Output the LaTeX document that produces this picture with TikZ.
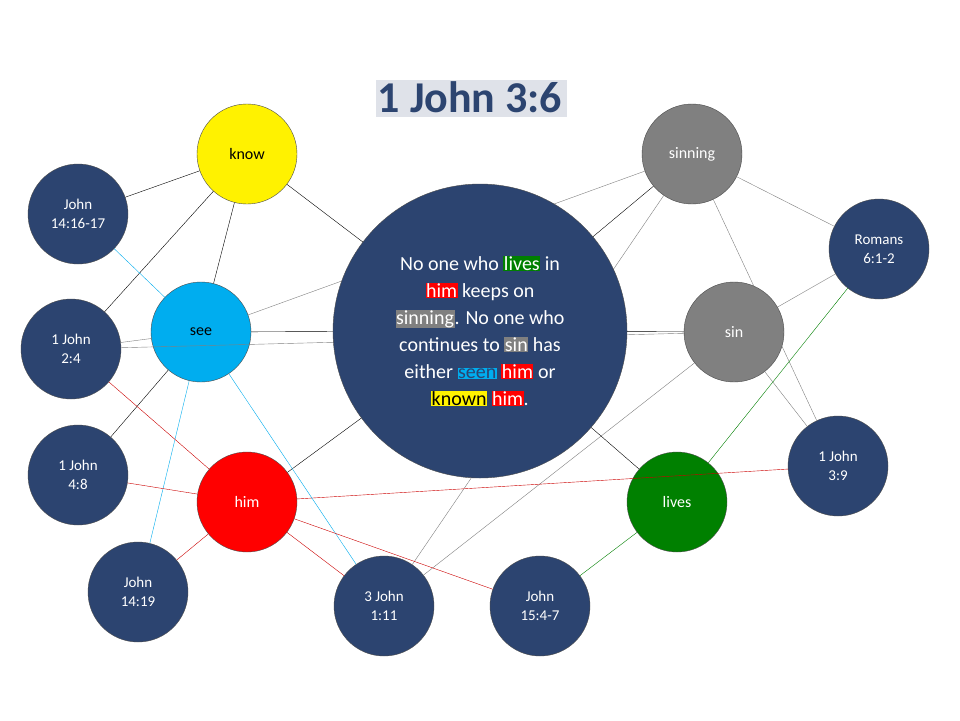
\documentclass[tikz,border=0pt]{standalone}
\usepackage{fontspec}
\setmainfont{Carlito}
\usetikzlibrary{shadows}
\definecolor{navy}{RGB}{44,68,112}
\definecolor{grey}{RGB}{128,128,128}
\definecolor{leaf}{RGB}{0,128,0}
\newcommand{\hl}[3]{{\setlength{\fboxsep}{0.5pt}\colorbox{#1}{\textcolor{#2}{#3}}}}
\tikzset{
  ball/.style={circle,draw=black!70,thin,minimum size=100pt,inner sep=0pt,align=center,font=\fontsize{16}{20}\selectfont},
  verse/.style={ball,fill=navy,text=white,font=\fontsize{15}{19}\selectfont},
  bk/.style={black,thin},
  gr/.style={grey,thin},
  cy/.style={cyan,thin},
  rd/.style={red!80!black,thin},
  gn/.style={leaf,thin}
}
\begin{document}
\begin{tikzpicture}[x=1pt,y=-1pt]
\useasboundingbox[fill=white] (0,0) rectangle (960,720);

% title
\node[font=\fontsize{44}{50}\bfseries\selectfont,text=navy,
  drop shadow={shadow xshift=1.5pt,shadow yshift=-1.5pt,fill=navy!30}] (title) at (470,97) {1 John 3:6};

% word circles
\node[ball,fill=yellow] (know) at (247,154) {know};
\node[ball,fill=cyan] (see) at (201,332) {see};
\node[ball,fill=red,text=white] (him) at (247,502) {him};
\node[ball,fill=grey,text=white] (sinning) at (692,154) {sinning};
\node[ball,fill=grey,text=white] (sin) at (734,332) {sin};
\node[ball,fill=leaf,text=white] (lives) at (677,502) {lives};

% verse circles
\node[verse] (jn1416) at (78,214) {John\\14:16-17};
\node[verse] (ijn24) at (71,349) {1 John\\2:4};
\node[verse] (ijn48) at (78,475) {1 John\\4:8};
\node[verse] (jn1419) at (138,592) {John\\14:19};
\node[verse] (iiijn111) at (384,606) {3 John\\1:11};
\node[verse] (jn154) at (540,606) {John\\15:4-7};
\node[verse] (ijn39) at (838,466) {1 John\\3:9};
\node[verse] (rom61) at (879,249) {Romans\\6:1-2};

% links behind
\begin{scope}[on background layer/.try]
\end{scope}
\draw[gr] (see) -- (sinning);
\draw[gr] (ijn24) -- (sin);
\draw[gr] (sinning) -- (iiijn111);
\draw[gr] (sin) -- (iiijn111);
\draw[rd] (him) -- (ijn39);

% center
\node[circle,fill=navy,draw=black!70,thin,minimum size=294pt,inner sep=0pt,align=center,
  text=white,font=\fontsize{20}{27}\selectfont] (verse) at (480,331)
  {No one who \hl{leaf}{white}{lives} in\\
   \hl{red}{white}{him} keeps on\\
   \hl{grey}{white}{sinning}. No one who\\
   continues to \hl{grey}{white}{sin} has\\
   either \hl{cyan}{navy}{seen} \hl{red}{white}{him} or\\
   \hl{yellow}{black}{known} \hl{red}{white}{him}.};

\draw[bk] (jn1416) -- (know);
\draw[bk] (know) -- (verse);
\draw[bk] (know) -- (ijn24);
\draw[bk] (know) -- (see);
\draw[bk] (see) -- (verse);
\draw[bk] (ijn48) -- (see);
\draw[bk] (him) -- (verse);
\draw[bk] (sinning) -- (verse);
\draw[bk] (sin) -- (verse);
\draw[bk] (lives) -- (verse);

\draw[cy] (jn1416) -- (see);
\draw[cy] (see) -- (jn1419);
\draw[cy] (see) -- (iiijn111);

\draw[gr] (ijn24) -- (see);
\draw[gr] (sinning) -- (rom61);
\draw[gr] (sinning) -- (ijn39);
\draw[gr] (sin) -- (rom61);
\draw[gr] (sin) -- (ijn39);

\draw[rd] (ijn24) -- (him);
\draw[rd] (ijn48) -- (him);
\draw[rd] (him) -- (jn1419);
\draw[rd] (him) -- (iiijn111);
\draw[rd] (him) -- (jn154);

\draw[gn] (lives) -- (rom61);
\draw[gn] (lives) -- (jn154);
\end{tikzpicture}
\end{document}
